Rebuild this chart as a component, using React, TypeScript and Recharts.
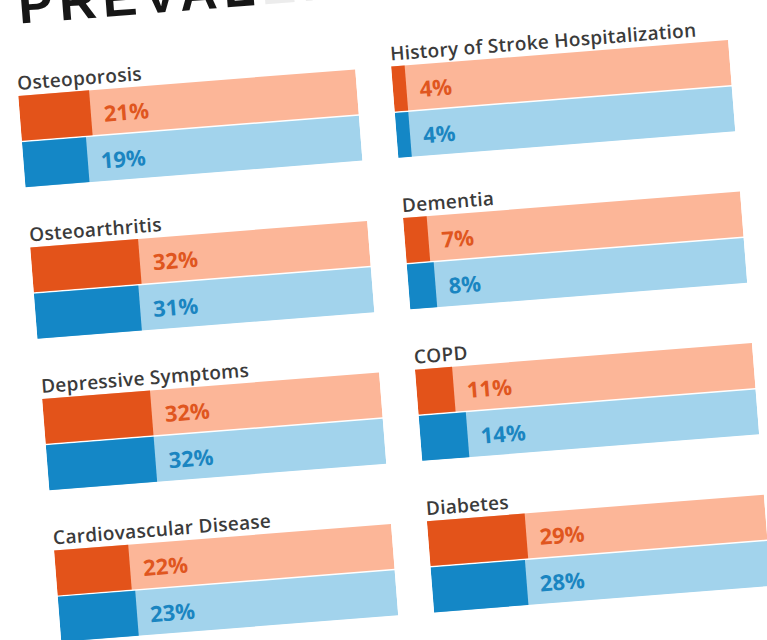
import { BarChart, Bar, XAxis, YAxis, Cell } from 'recharts'

const CONDITIONS = [
  'Osteoporosis',
  'Osteoarthritis',
  'Depressive Symptoms',
  'Cardiovascular Disease',
  'History of Stroke Hospitalization',
  'Dementia',
  'COPD',
  'Diabetes',
]
const ORANGE_VALUES = [21, 32, 32, 22, 4, 7, 11, 29]
const BLUE_VALUES = [19, 31, 32, 23, 4, 8, 14, 28]

const DARK = ['#e3531a', '#1487c6']
const LIGHT = ['#fcb698', '#a2d3ec']
const TEXT = ['#e0561f', '#1a85c1']

const FONT = '"Open Sans", "Noto Sans", sans-serif'
const PANEL_W = 338
const PANEL_H = 93
const TITLE_H = 25
const COL_X = [37, 411]
const ROW_Y = [67, 219, 371, 523]

// eslint-disable-next-line @typescript-eslint/no-explicit-any
function renderTrack(p: any) {
  const i = p.index ?? 0
  return <rect x={p.x} y={p.y} width={p.width} height={p.height} fill={LIGHT[i]} />
}

// eslint-disable-next-line @typescript-eslint/no-explicit-any
function renderLabel(p: any) {
  const vb = p.viewBox || p
  const i = p.index ?? (vb.y < PANEL_H / 2 ? 0 : 1)
  return (
    <text
      x={vb.x + vb.width + 13}
      y={vb.y + vb.height / 2 + 1}
      dominantBaseline="central"
      fill={TEXT[i]}
      fontSize={22}
      fontWeight={700}
      fontFamily={FONT}
    >
      {p.value}%
    </text>
  )
}

function Panel({ idx }: { idx: number }) {
  const data = [
    { row: 'orange', value: ORANGE_VALUES[idx] },
    { row: 'blue', value: BLUE_VALUES[idx] },
  ]
  const col = idx < 4 ? 0 : 1
  const row = idx % 4
  return (
    <div style={{ position: 'absolute', left: COL_X[col], top: ROW_Y[row] - TITLE_H }}>
      <div
        style={{
          height: TITLE_H,
          fontFamily: FONT,
          fontSize: 19,
          fontWeight: 600,
          color: '#3b3b3b',
          lineHeight: '26px',
          whiteSpace: 'nowrap',
          letterSpacing: 0.3,
        }}
      >
        {CONDITIONS[idx]}
      </div>
      <BarChart
        width={PANEL_W}
        height={PANEL_H}
        data={data}
        layout="vertical"
        margin={{ top: 0, right: 0, bottom: 0, left: 0 }}
      >
        <XAxis type="number" domain={[0, 100]} hide />
        <YAxis type="category" dataKey="row" hide />
        <Bar
          dataKey="value"
          barSize={45}
          isAnimationActive={false}
          background={renderTrack}
          label={renderLabel}
        >
          {data.map((d, i) => (
            <Cell key={d.row} fill={DARK[i]} />
          ))}
        </Bar>
      </BarChart>
    </div>
  )
}

export default function App() {
  return (
    <div
      style={{
        position: 'fixed',
        left: 0,
        top: 0,
        width: 767,
        height: 640,
        overflow: 'hidden',
        background: '#ffffff',
      }}
    >
      <div
        style={{
          position: 'absolute',
          left: 0,
          top: 0,
          width: 767,
          height: 640,
          transform: 'rotate(-4.5deg)',
          transformOrigin: '383px 320px',
        }}
      >
        <div
          style={{
            position: 'absolute',
            left: 44,
            top: -52,
            fontFamily: '"Liberation Sans", Arial, sans-serif',
            fontWeight: 900,
            fontSize: 52,
            letterSpacing: 6,
            color: '#161616',
            whiteSpace: 'nowrap',
          }}
        >
          PREVAL<span style={{ color: '#ececec' }}>ENCE</span>
        </div>
        {CONDITIONS.map((_, i) => (
          <Panel key={i} idx={i} />
        ))}
      </div>
    </div>
  )
}
